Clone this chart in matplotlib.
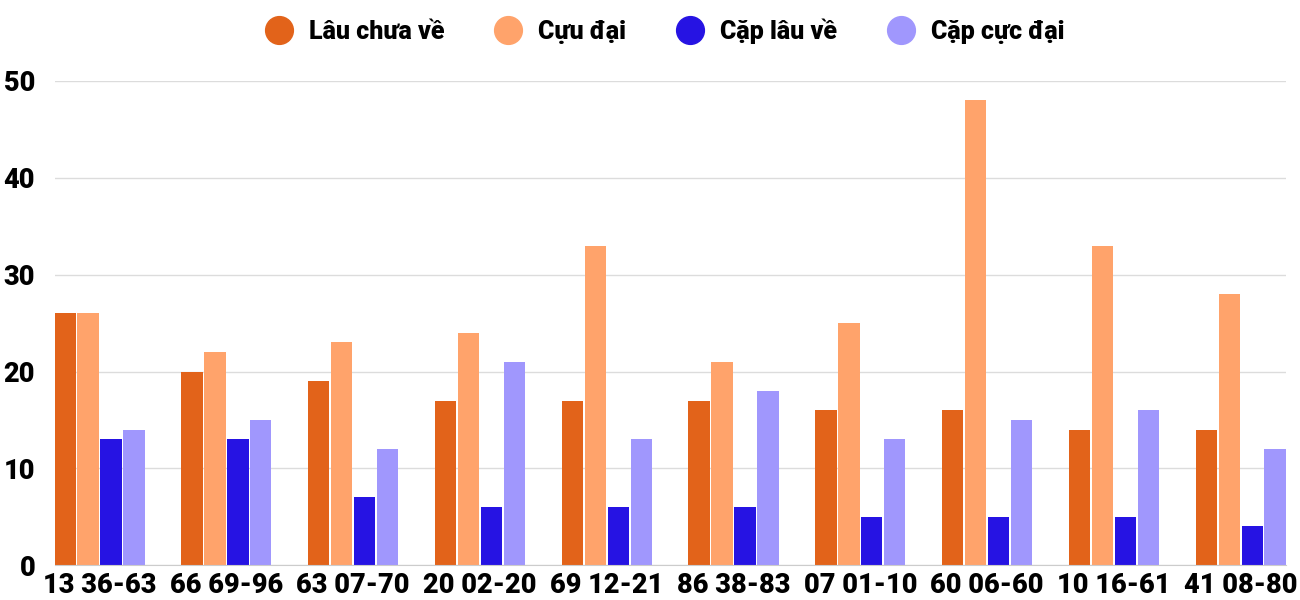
import numpy as np
import matplotlib.pyplot as plt
from matplotlib.lines import Line2D

plt.rcParams['font.family'] = ['Roboto', 'DejaVu Sans']
plt.rcParams['font.weight'] = 'heavy'

# Dữ liệu
labels = ['13 36-63', '66 69-96', '63 07-70', '20 02-20', '69 12-21',
          '86 38-83', '07 01-10', '60 06-60', '10 16-61', '41 08-80']
lau_chua_ve = [26, 20, 19, 17, 17, 17, 16, 16, 14, 14]
cuu_dai = [26, 22, 23, 24, 33, 21, 25, 48, 33, 28]
cap_lau_ve = [13, 13, 7, 6, 6, 6, 5, 5, 5, 4]
cap_cuc_dai = [14, 15, 12, 21, 13, 18, 13, 15, 16, 12]

series = [lau_chua_ve, cuu_dai, cap_lau_ve, cap_cuc_dai]
names = ['Lâu chưa về', 'Cựu đại', 'Cặp lâu về', 'Cặp cực đại']
colors = ['#E2631A', '#FFA36B', '#2613E3', '#A097FD']

fig = plt.figure(figsize=(13, 6), dpi=100)
ax = fig.add_axes([0.042, 0.058, 0.947, 0.807])

x = np.arange(len(labels))
w = 0.168
step = 0.181
for i, (vals, c) in enumerate(zip(series, colors)):
    ax.bar(x + (i - 1.5) * step, vals, width=w, color=c, zorder=3)

ax.set_xlim(-0.355, len(labels) - 1 + 0.355)
ax.set_ylim(0, 50)
ax.set_yticks([0, 10, 20, 30, 40, 50])
ax.set_xticks(x)
ax.set_xticklabels(labels, fontsize=19.5, fontweight='heavy')
ax.tick_params(axis='y', labelsize=19.5, length=0, pad=14)
ax.tick_params(axis='x', length=0, pad=5)
for lab in ax.get_yticklabels():
    lab.set_fontweight('heavy')

ax.grid(axis='y', color='#dcdcdc', linewidth=1, zorder=0)
for s in ['top', 'right', 'left']:
    ax.spines[s].set_visible(False)
ax.spines['bottom'].set_color('#cccccc')
ax.spines['bottom'].set_zorder(4)

handles = [Line2D([], [], marker='o', linestyle='', markersize=20,
                  markerfacecolor=c, markeredgecolor=c) for c in colors]
fig.legend(handles, names, loc='center', bbox_to_anchor=(0.507, 0.948), ncol=4,
           frameon=False, prop={'size': 18, 'weight': 'heavy'},
           handletextpad=0.2, columnspacing=1.55)

fig.savefig('out.png', dpi=100)
